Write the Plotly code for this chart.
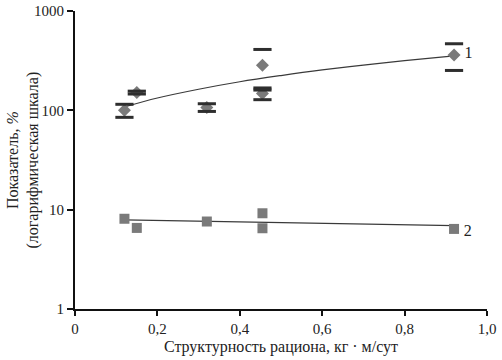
import plotly.graph_objects as go

# Series 1 (diamonds) with error bars
x1 = [0.12, 0.15, 0.32, 0.455, 0.455, 0.92]
y1 = [100, 151, 107, 285, 148, 360]
err1 = [15, 5, 9.5, 125, 20, 108]

# Series 2 (squares)
x2 = [0.12, 0.15, 0.32, 0.455, 0.455, 0.92]
y2 = [8.1, 6.55, 7.6, 9.2, 6.5, 6.4]

# Trend lines
trend1_x = [0.12, 0.2, 0.3, 0.4, 0.5, 0.6, 0.7, 0.8, 0.92]
trend1_y = [108, 133, 163, 194, 224, 255, 285, 316, 353]
trend2_x = [0.12, 0.92]
trend2_y = [7.9, 6.9]

# Axis ticks
x_tickvals = [0, 0.2, 0.4, 0.6, 0.8, 1.0]
x_ticktext = ["0", "0,2", "0,4", "0,6", "0,8", "1,0"]
y_tickvals = [1, 10, 100, 1000]
y_ticktext = ["1", "10", "100", "1000"]

series_labels = ["1", "2"]

FONT = "Liberation Serif, Times New Roman, DejaVu Serif, serif"
MARK = "#7a7a7a"
DARK = "#2e2e2e"

fig = go.Figure()

fig.add_trace(go.Scatter(x=trend1_x, y=trend1_y, mode="lines",
                         line=dict(color="#3a3a3a", width=1.2, shape="spline"),
                         hoverinfo="skip"))
fig.add_trace(go.Scatter(x=trend2_x, y=trend2_y, mode="lines",
                         line=dict(color="#3a3a3a", width=1.2),
                         hoverinfo="skip"))

fig.add_trace(go.Scatter(x=x1, y=y1, mode="markers",
                         marker=dict(symbol="diamond", size=10, color=MARK)))
fig.add_trace(go.Scatter(x=x2, y=y2, mode="markers",
                         marker=dict(symbol="square", size=10, color=MARK)))

# error-bar caps (no visible stems in the reference)
upper = [v + e for v, e in zip(y1, err1)]
lower = [v - e for v, e in zip(y1, err1)]
fig.add_trace(go.Scatter(x=x1 + x1, y=upper + lower, mode="markers",
                         marker=dict(symbol="line-ew", size=13,
                                     line=dict(color=DARK, width=3))))

# series labels
fig.add_trace(go.Scatter(x=[0.955], y=[370], mode="text", text=[series_labels[0]],
                         textfont=dict(family=FONT, size=16, color="#222")))
fig.add_trace(go.Scatter(x=[0.953], y=[5.95], mode="text", text=[series_labels[1]],
                         textfont=dict(family=FONT, size=16, color="#222")))

fig.update_layout(
    width=502, height=360,
    margin=dict(l=75, r=15, t=11, b=51),
    plot_bgcolor="white", paper_bgcolor="white",
    showlegend=False,
    font=dict(family=FONT, size=15, color="#222"),
    xaxis=dict(range=[0, 1], showline=True, linecolor="#111", linewidth=2,
               ticks="outside", ticklen=5, tickwidth=1.5, tickcolor="#111",
               tickvals=x_tickvals, ticktext=x_ticktext,
               showgrid=False, zeroline=False,
               title=dict(text="Структурность рациона, кг · м/сут",
                          font=dict(family=FONT, size=16), standoff=5),
               automargin=False),
    yaxis=dict(type="log", range=[0, 3], showline=True, linecolor="#111", linewidth=2,
               ticks="outside", ticklen=6, tickwidth=1.5, tickcolor="#111",
               tickvals=y_tickvals, ticktext=y_ticktext,
               showgrid=False, zeroline=False,
               automargin=False),
    annotations=[dict(text="Показатель, <i>%</i><br>(логарифмическая шкала)",
                      xref="paper", yref="paper", x=(22.5 - 75) / 412, y=0.5,
                      xanchor="center", yanchor="middle", textangle=-90,
                      showarrow=False, font=dict(family=FONT, size=16, color="#222"))],
)

fig.write_html("out.html", config={"displayModeBar": False},
               post_script="document.body.style.margin='0';document.body.style.padding='0';")
